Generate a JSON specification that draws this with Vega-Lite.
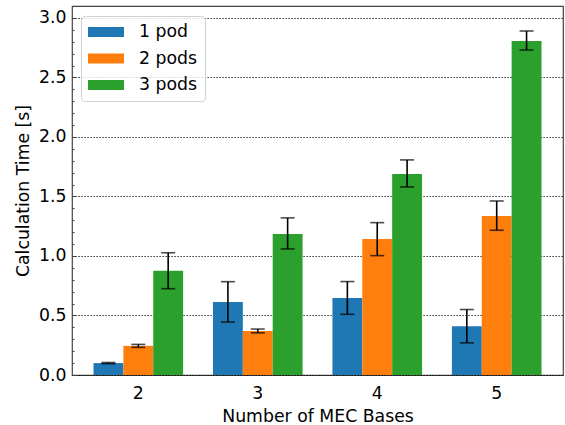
{
  "$schema": "https://vega.github.io/schema/vega-lite/v6.json",
  "autosize": "none",
  "padding": {"left": 72, "top": 6, "right": 2, "bottom": 50},
  "width": 491,
  "height": 369,
  "config": {
    "font": "DejaVu Sans",
    "view": {"stroke": "#444", "strokeWidth": 1.2},
    "axis": {"labelFont": "DejaVu Sans", "titleFont": "DejaVu Sans", "labelColor": "#000", "titleColor": "#000", "titleFontWeight": "normal"}
  },
  "data": {
    "values": [
      {"bases": "2", "pods": "1 pod", "mean": 0.10, "lo": 0.095, "hi": 0.105},
      {"bases": "2", "pods": "2 pods", "mean": 0.245, "lo": 0.232, "hi": 0.257},
      {"bases": "2", "pods": "3 pods", "mean": 0.875, "lo": 0.725, "hi": 1.027},
      {"bases": "3", "pods": "1 pod", "mean": 0.614, "lo": 0.445, "hi": 0.784},
      {"bases": "3", "pods": "2 pods", "mean": 0.37, "lo": 0.354, "hi": 0.386},
      {"bases": "3", "pods": "3 pods", "mean": 1.185, "lo": 1.059, "hi": 1.32},
      {"bases": "4", "pods": "1 pod", "mean": 0.647, "lo": 0.51, "hi": 0.785},
      {"bases": "4", "pods": "2 pods", "mean": 1.143, "lo": 1.003, "hi": 1.28},
      {"bases": "4", "pods": "3 pods", "mean": 1.689, "lo": 1.58, "hi": 1.807},
      {"bases": "5", "pods": "1 pod", "mean": 0.41, "lo": 0.27, "hi": 0.55},
      {"bases": "5", "pods": "2 pods", "mean": 1.336, "lo": 1.216, "hi": 1.462},
      {"bases": "5", "pods": "3 pods", "mean": 2.807, "lo": 2.73, "hi": 2.89}
    ]
  },
  "encoding": {
    "x": {
      "field": "bases", "type": "ordinal",
      "scale": {"paddingInner": 0.25, "paddingOuter": 0.18},
      "axis": {"title": "Number of MEC Bases", "labelAngle": 0, "labelFontSize": 17.3, "titleFontSize": 17.3, "ticks": false, "domain": false, "labelPadding": 9, "titlePadding": 6}
    },
    "xOffset": {"field": "pods", "type": "nominal", "scale": {"paddingInner": 0, "paddingOuter": 0}}
  },
  "resolve": {"axis": {"y": "independent"}},
  "layer": [
    {
      "mark": {"type": "bar"},
      "encoding": {
        "y": {
          "field": "mean", "type": "quantitative",
          "scale": {"domain": [0, 3.1], "nice": false, "zero": true},
          "axis": {
            "orient": "left",
            "title": "Calculation Time [s]",
            "titleFontSize": 17.3,
            "labelFontSize": 17.3,
            "titlePadding": 6,
            "domain": false,
            "values": [0, 0.5, 1.0, 1.5, 2.0, 2.5, 3.0],
            "format": ".1f",
            "labelOverlap": false,
            "tickSize": -4,
            "tickColor": "#444",
            "labelPadding": 10,
            "grid": true,
            "gridColor": "#000",
            "gridDash": [1.2, 1.8],
            "gridWidth": 1
          }
        },
        "color": {
          "field": "pods", "type": "nominal",
          "scale": {"domain": ["1 pod", "2 pods", "3 pods"], "range": ["#1f77b4", "#ff7f0e", "#2ca02c"]},
          "legend": {
            "title": null,
            "orient": "none",
            "legendX": 9,
            "legendY": 10,
            "labelFontSize": 17.3,
            "labelFont": "DejaVu Sans",
            "labelColor": "#000",
            "symbolType": "M-1,-0.56L3,-0.56L3,0.56L-1,0.56Z",
            "symbolSize": 324,
            "symbolStrokeWidth": 0,
            "labelOffset": 33,
            "rowPadding": 8.5,
            "padding": 7,
            "fillColor": "rgba(255,255,255,0.8)",
            "strokeColor": "#d0d0d0",
            "cornerRadius": 4
          }
        }
      }
    },
    {
      "mark": {"type": "rule", "color": "#000", "strokeWidth": 1.6},
      "encoding": {
        "y": {
          "field": "lo", "type": "quantitative",
          "axis": {
            "orient": "left",
            "title": null,
            "labels": false,
            "domain": false,
            "grid": false,
            "values": [0.1, 0.2, 0.3, 0.4, 0.6, 0.7, 0.8, 0.9, 1.1, 1.2, 1.3, 1.4, 1.6, 1.7, 1.8, 1.9, 2.1, 2.2, 2.3, 2.4, 2.6, 2.7, 2.8, 2.9, 3.1],
            "tickSize": -2,
            "tickColor": "#444"
          }
        },
        "y2": {"field": "hi"}
      }
    },
    {
      "mark": {"type": "tick", "color": "#000", "thickness": 1.6, "size": 14},
      "encoding": {"y": {"field": "lo", "type": "quantitative", "axis": null}}
    },
    {
      "mark": {"type": "tick", "color": "#000", "thickness": 1.6, "size": 14},
      "encoding": {"y": {"field": "hi", "type": "quantitative", "axis": null}}
    }
  ]
}
